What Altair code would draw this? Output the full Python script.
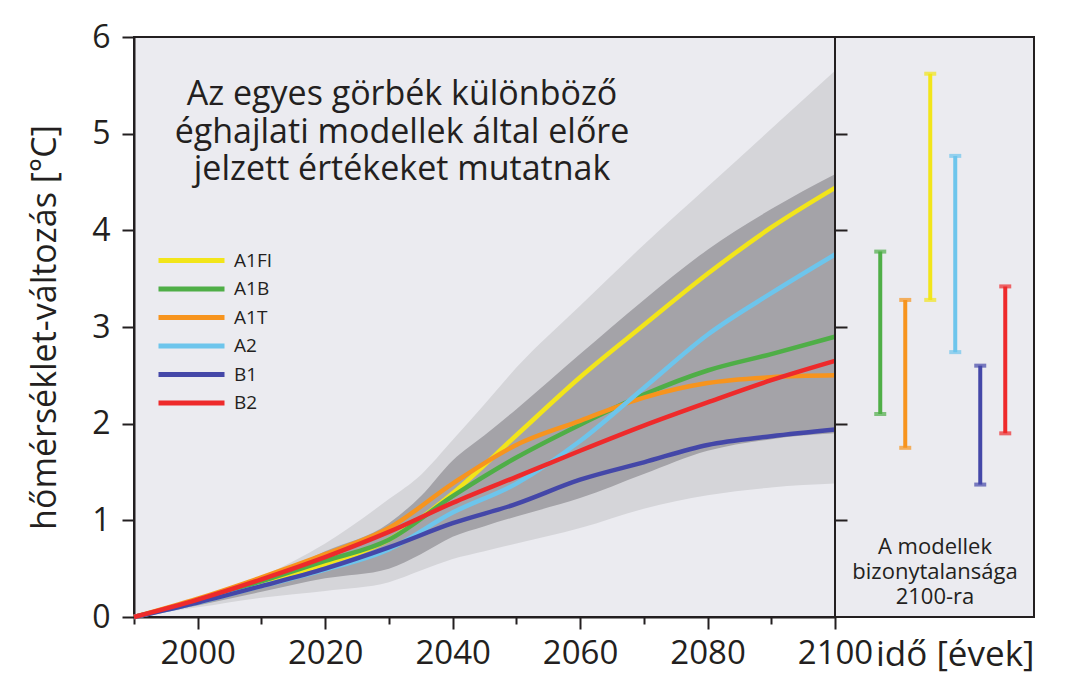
import altair as alt
import pandas as pd

# ---------------- data ----------------
years = [1990, 2000, 2010, 2020, 2030, 2040, 2050, 2060, 2070, 2080, 2090, 2100]
scenarios = ["A1FI", "A1B", "A1T", "A2", "B1", "B2"]
colors = ["#f2e51a", "#4fae47", "#f7941e", "#6dc5ec", "#4447a8", "#ee2a2b"]

a1fi = [0, 0.17, 0.36, 0.55, 0.80, 1.28, 1.88, 2.48, 3.02, 3.55, 4.03, 4.44]
a1b = [0, 0.17, 0.37, 0.58, 0.80, 1.25, 1.65, 1.99, 2.30, 2.55, 2.72, 2.90]
a1t = [0, 0.19, 0.41, 0.65, 0.92, 1.38, 1.78, 2.03, 2.27, 2.42, 2.48, 2.50]
a2 = [0, 0.15, 0.32, 0.49, 0.70, 1.08, 1.38, 1.82, 2.37, 2.92, 3.35, 3.75]
b1 = [0, 0.15, 0.32, 0.50, 0.72, 0.97, 1.17, 1.42, 1.60, 1.78, 1.87, 1.94]
b2 = [0, 0.18, 0.39, 0.62, 0.88, 1.18, 1.45, 1.72, 1.98, 2.22, 2.45, 2.65]

band_years = [1990, 2000, 2010, 2020, 2030, 2035, 2040, 2045, 2050, 2060, 2070, 2080, 2090, 2100]
light_hi = [0, 0.19, 0.42, 0.76, 1.22, 1.47, 1.83, 2.20, 2.58, 3.22, 3.85, 4.45, 5.05, 5.65]
light_lo = [0, 0.10, 0.20, 0.27, 0.36, 0.48, 0.60, 0.68, 0.76, 0.92, 1.12, 1.26, 1.34, 1.38]
dark_hi = [0, 0.18, 0.39, 0.68, 0.97, 1.25, 1.62, 1.88, 2.15, 2.72, 3.28, 3.80, 4.22, 4.58]
dark_lo = [0, 0.12, 0.26, 0.40, 0.50, 0.65, 0.83, 0.94, 1.04, 1.23, 1.48, 1.72, 1.84, 1.90]

bar_order = ["A1B", "A1T", "A1FI", "A2", "B1", "B2"]
bar_lo = [2.10, 1.75, 3.28, 2.74, 1.37, 1.90]
bar_hi = [3.78, 3.28, 5.62, 4.77, 2.60, 3.42]

y_ticks = [0, 1, 2, 3, 4, 5, 6]
x_ticks = [1990, 2000, 2010, 2020, 2030, 2040, 2050, 2060, 2070, 2080, 2090, 2100]
inner_ticks = [1, 2, 3, 4, 5]

title_lines = ["Az egyes görbék különböző", "éghajlati modellek által előre", "jelzett értékeket mutatnak"]
note_lines = ["A modellek", "bizonytalansága", "2100-ra"]
y_title = "hőmérséklet-változás [°C]"
x_title = "idő [évek]"

# ---------------- tables ----------------
series = {"A1FI": a1fi, "A1B": a1b, "A1T": a1t, "A2": a2, "B1": b1, "B2": b2}
lines_df = pd.DataFrame(
    [{"year": y, "value": v, "scenario": s} for s, vals in series.items() for y, v in zip(years, vals)]
)
light_df = pd.DataFrame({"year": band_years, "lo": light_lo, "hi": light_hi})
dark_df = pd.DataFrame({"year": band_years, "lo": dark_lo, "hi": dark_hi})
bars_df = pd.DataFrame({"scenario": bar_order, "slot": list(range(len(bar_order))),
                        "lo": bar_lo, "hi": bar_hi})
title_df = pd.DataFrame({"t": ["\n".join(title_lines)]})
note_df = pd.DataFrame({"t": ["\n".join(note_lines)]})

INK = "#231f20"
FONT = "Open Sans"
W_L, W_R, H = 701, 199, 580

x_enc = alt.X(
    "year:Q",
    scale=alt.Scale(domain=[1990, 2100], nice=False, zero=False),
    axis=alt.Axis(
        values=x_ticks, format="d", title=None, grid=False,
        labelExpr="datum.value % 20 === 0 ? datum.label : ''",
        tickSize={"condition": {"test": "datum.value % 20 === 0", "value": 12}, "value": 7},
        labelFlush=False, labelOverlap=False, labelFontSize=33, labelPadding=8,
    ),
)
y_axis = alt.Axis(
    values=y_ticks, format="d", grid=False, tickSize=12, labelPadding=12,
    labelFontSize=32, title=y_title, titleFontSize=34, titlePadding=29,
    titleFontWeight="normal",
)
y_scale = alt.Scale(domain=[0, 6], nice=False, zero=True)
color_scale = alt.Scale(domain=scenarios, range=colors)

light = alt.Chart(light_df).mark_area(color="#d5d5d9", interpolate="monotone").encode(
    x=x_enc, y=alt.Y("lo:Q", scale=y_scale, axis=y_axis), y2="hi:Q"
)
dark = alt.Chart(dark_df).mark_area(color="#a4a3a8", interpolate="monotone").encode(
    x=x_enc, y=alt.Y("lo:Q", scale=y_scale, axis=y_axis), y2="hi:Q"
)
lines = alt.Chart(lines_df).mark_line(strokeWidth=4.5, interpolate="monotone").encode(
    x=x_enc,
    y=alt.Y("value:Q", scale=y_scale, axis=y_axis),
    color=alt.Color(
        "scenario:N", scale=color_scale,
        legend=alt.Legend(
            orient="none", legendX=44, legendY=210, title=None,
            symbolType="M-3,0H3", symbolSize=484, symbolStrokeWidth=5,
            labelFontSize=19, labelOffset=29, rowPadding=4.5, padding=0,
            labelFont=FONT, labelColor=INK,
        ),
    ),
)
title_txt = alt.Chart(title_df).mark_text(
    fontSize=34, lineHeight=37.5, align="center", baseline="alphabetic",
    font=FONT, color=INK, lineBreak="\n", fontWeight=500,
).encode(x=alt.value(268), y=alt.value(68), text="t:N")

left = alt.layer(light, dark, lines, title_txt).properties(width=W_L, height=H)

x_r = alt.X(
    "slot:Q",
    scale=alt.Scale(domain=[-1.81, 6.15], nice=False, zero=False),
    axis=alt.Axis(labels=False, ticks=False, domain=False, grid=False, title=x_title,
                  titleAnchor="end", titleFontSize=35, titlePadding=20,
                  titleFontWeight="normal"),
)
r_axis = alt.Axis(values=inner_ticks, labels=False, domain=False, title=None,
                  grid=False, tickSize=12, offset=-12)
col_r = alt.Color("scenario:N", scale=color_scale, legend=None)

bars = alt.Chart(bars_df).mark_rule(strokeWidth=4).encode(
    x=x_r, y=alt.Y("lo:Q", scale=y_scale, axis=r_axis), y2="hi:Q", color=col_r)
cap_lo = alt.Chart(bars_df).mark_tick(orient="horizontal", size=12, thickness=4).encode(
    x=x_r, y=alt.Y("lo:Q", scale=y_scale, axis=r_axis), color=col_r)
cap_hi = alt.Chart(bars_df).mark_tick(orient="horizontal", size=12, thickness=4).encode(
    x=x_r, y=alt.Y("hi:Q", scale=y_scale, axis=r_axis), color=col_r)
note_txt = alt.Chart(note_df).mark_text(
    fontSize=22, lineHeight=25, align="center", baseline="alphabetic",
    font=FONT, color=INK, lineBreak="\n", fontWeight=500,
).encode(x=alt.value(100), y=alt.value(517), text="t:N")

right = alt.layer(bars, cap_lo, cap_hi, note_txt).properties(width=W_R, height=H)

chart = alt.hconcat(left, right, spacing=0, bounds="flush").properties(
    padding={"left": 19, "top": 12, "right": 5, "bottom": 5},
    background="white",
).configure_view(
    stroke=INK, strokeWidth=2, fill="#ebebf0"
).configure_axis(
    domainColor=INK, domainWidth=2, tickColor=INK, tickWidth=2,
    labelColor=INK, titleColor=INK, labelFont=FONT, titleFont=FONT,
).configure_text(font=FONT)

chart.save("out.html", embed_options={"renderer": "svg", "actions": False})
